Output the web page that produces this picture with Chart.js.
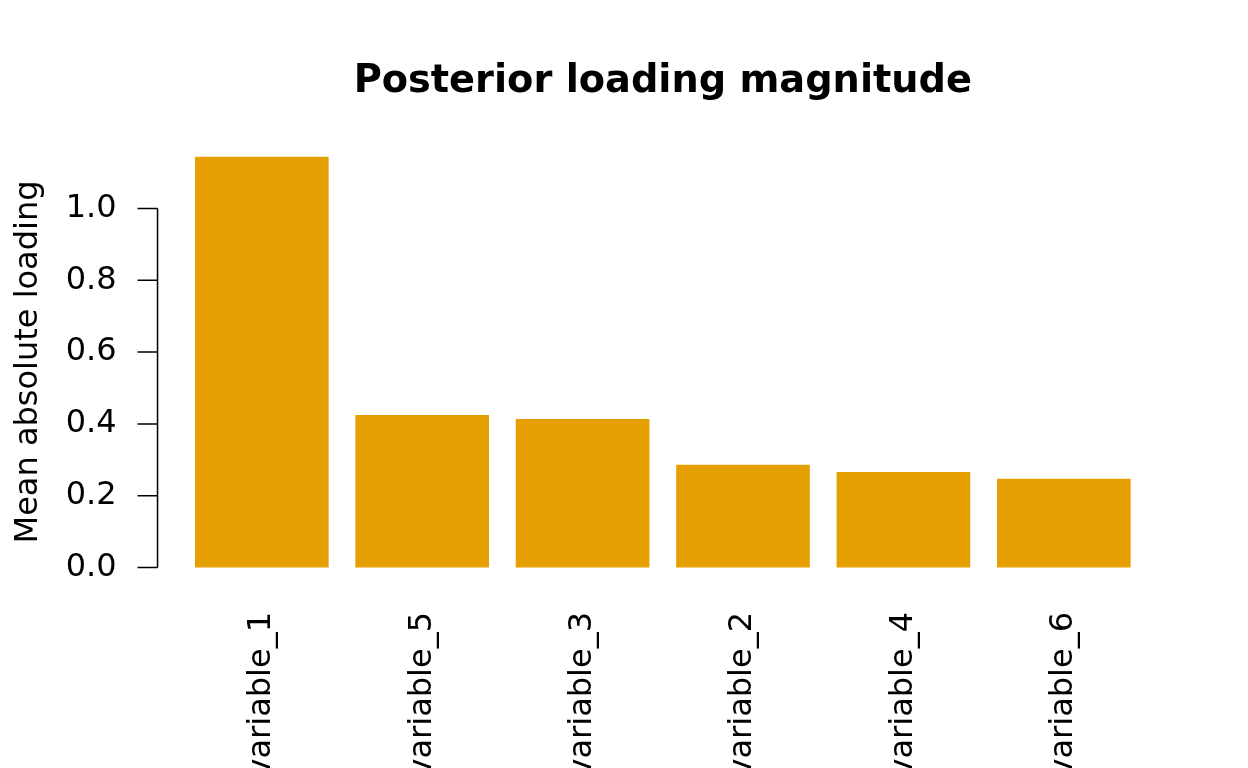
<!DOCTYPE html>
<html>
<head>
<meta charset="utf-8">
<title>Posterior loading magnitude</title>
<script src="https://cdn.jsdelivr.net/npm/chart.js@4.4.1/dist/chart.umd.min.js"></script>
<style>
    html, body { margin: 0; padding: 0; background: #fff; }
    #wrap { width: 1248px; height: 768px; overflow: hidden; }
</style>
</head>
<body>
<div id="wrap"><canvas id="chart" width="1248" height="768"></canvas></div>
<script>
// Data
const categories = ['variable_1', 'variable_5', 'variable_3', 'variable_2', 'variable_4', 'variable_6'];
const loadings = [1.144, 0.425, 0.414, 0.286, 0.266, 0.247];
const yTicks = [0, 0.2, 0.4, 0.6, 0.8, 1.0];

const FONT = 'DejaVu Sans';
const BAR_COLOR = '#E69F00';

// R-style axis: line only spans the first to last tick, drawn left of the plot region
const rAxisPlugin = {
    id: 'rAxis',
    afterDraw(chart) {
        const ctx = chart.ctx;
        const y = chart.scales.y;
        const x = chart.scales.x;
        const unit = (x.width / categories.length) / 1.2;
        const axisX = chart.chartArea.left - 0.18 * unit;
        ctx.save();
        ctx.strokeStyle = '#000';
        ctx.lineWidth = 1.5;
        ctx.beginPath();
        ctx.moveTo(axisX, y.getPixelForValue(yTicks[0]));
        ctx.lineTo(axisX, y.getPixelForValue(yTicks[yTicks.length - 1]));
        yTicks.forEach(t => {
            const py = y.getPixelForValue(t);
            ctx.moveTo(axisX, py);
            ctx.lineTo(axisX - 20, py);
        });
        ctx.stroke();
        ctx.restore();
    }
};

const ctx = document.getElementById('chart').getContext('2d');
new Chart(ctx, {
    type: 'bar',
    data: {
        labels: categories,
        datasets: [{
            data: loadings,
            backgroundColor: BAR_COLOR,
            borderWidth: 0,
            categoryPercentage: 1,
            barPercentage: 1 / 1.2
        }]
    },
    options: {
        responsive: false,
        animation: false,
        devicePixelRatio: 1,
        layout: { padding: { left: 0, right: 104, top: 0, bottom: 0 } },
        plugins: {
            legend: { display: false },
            tooltip: { enabled: false },
            title: {
                display: true,
                text: 'Posterior loading magnitude',
                fullSize: false,
                color: '#000',
                font: { family: FONT, size: 38.3, weight: 'bold' },
                padding: { top: 59, bottom: 35 }
            }
        },
        scales: {
            x: {
                grid: { display: false, drawTicks: false },
                border: { display: false },
                ticks: {
                    color: '#000',
                    font: { family: FONT, size: 32 },
                    maxRotation: 90,
                    minRotation: 90,
                    autoSkip: false,
                    padding: 28
                },
                afterFit(scale) { scale.height = 184; }
            },
            y: {
                min: -0.0458,
                max: 1.1908,
                grid: { display: false, drawTicks: false },
                border: { display: false },
                afterBuildTicks(scale) {
                    scale.ticks = yTicks.map(v => ({ value: v }));
                },
                ticks: {
                    color: '#000',
                    font: { family: FONT, size: 32 },
                    padding: 65,
                    callback: v => Number(v).toFixed(1)
                },
                title: {
                    display: true,
                    text: 'Mean absolute loading',
                    color: '#000',
                    font: { family: FONT, size: 32 },
                    padding: { top: 9, bottom: 0 }
                },
                afterFit(scale) { scale.width = 181.6; }
            }
        }
    },
    plugins: [rAxisPlugin]
});
</script>
</body>
</html>
